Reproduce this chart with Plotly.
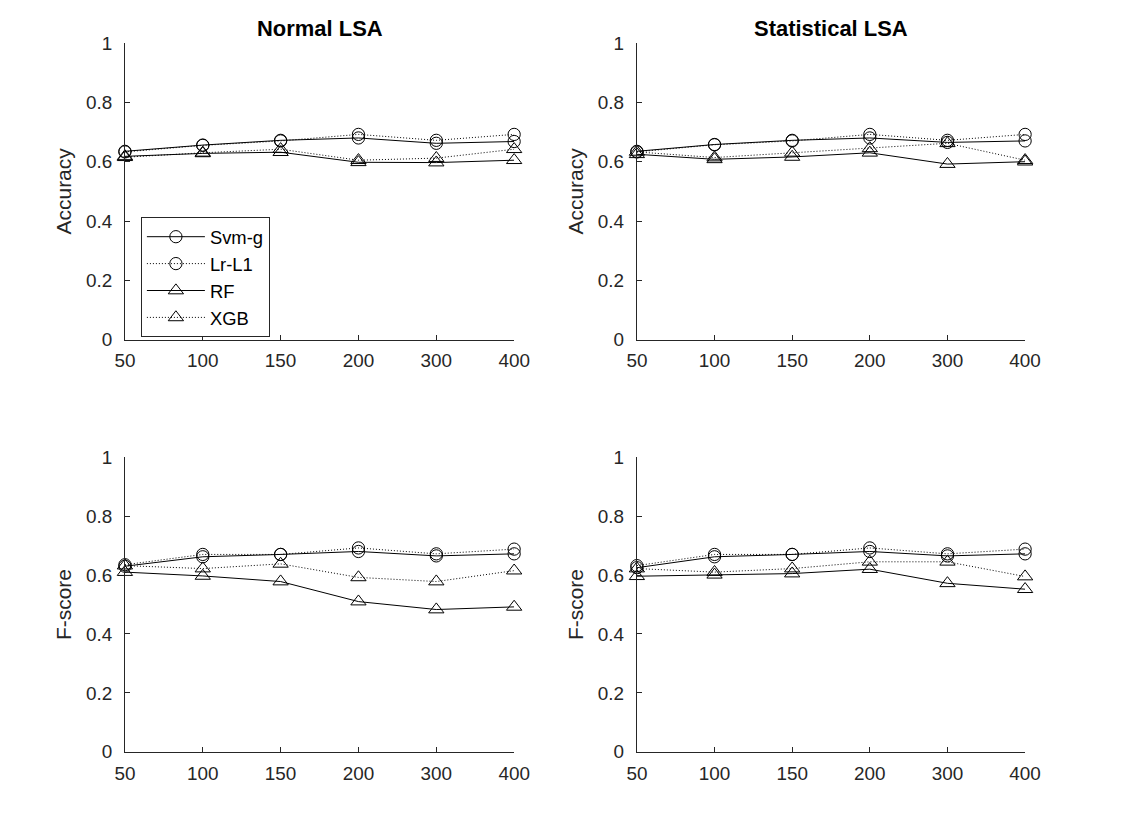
import plotly.graph_objects as go

x_labels = ["50", "100", "150", "200", "300", "400"]
series_names = ["Svm-g", "Lr-L1", "RF", "XGB"]

# Normal LSA - Accuracy
acc_normal_svm = [0.635, 0.656, 0.672, 0.680, 0.662, 0.668]
acc_normal_lr = [0.633, 0.655, 0.670, 0.692, 0.672, 0.692]
acc_normal_rf = [0.618, 0.628, 0.632, 0.598, 0.597, 0.605]
acc_normal_xgb = [0.615, 0.630, 0.642, 0.605, 0.612, 0.642]

# Statistical LSA - Accuracy
acc_stat_svm = [0.635, 0.658, 0.672, 0.680, 0.665, 0.670]
acc_stat_lr = [0.633, 0.657, 0.670, 0.692, 0.672, 0.692]
acc_stat_rf = [0.625, 0.608, 0.616, 0.630, 0.592, 0.600]
acc_stat_xgb = [0.633, 0.614, 0.630, 0.645, 0.662, 0.605]

# Normal LSA - F-score
f_normal_svm = [0.630, 0.662, 0.670, 0.680, 0.665, 0.672]
f_normal_lr = [0.635, 0.670, 0.670, 0.692, 0.672, 0.688]
f_normal_rf = [0.610, 0.597, 0.578, 0.510, 0.483, 0.492]
f_normal_xgb = [0.632, 0.622, 0.638, 0.592, 0.578, 0.615]

# Statistical LSA - F-score
f_stat_svm = [0.625, 0.662, 0.670, 0.680, 0.665, 0.672]
f_stat_lr = [0.632, 0.670, 0.670, 0.692, 0.672, 0.688]
f_stat_rf = [0.596, 0.601, 0.605, 0.620, 0.572, 0.552]
f_stat_xgb = [0.622, 0.610, 0.622, 0.645, 0.645, 0.595]

y_ticks = [0, 0.2, 0.4, 0.6, 0.8, 1]
y_tick_text = ["0", "0.2", "0.4", "0.6", "0.8", "1"]

panels = [
    ("x", "y", [acc_normal_svm, acc_normal_lr, acc_normal_rf, acc_normal_xgb]),
    ("x2", "y2", [acc_stat_svm, acc_stat_lr, acc_stat_rf, acc_stat_xgb]),
    ("x3", "y3", [f_normal_svm, f_normal_lr, f_normal_rf, f_normal_xgb]),
    ("x4", "y4", [f_stat_svm, f_stat_lr, f_stat_rf, f_stat_xgb]),
]

DOT = "1px,2px"
styles = [
    ("solid", "circle-open"),
    (DOT, "circle-open"),
    ("solid", "triangle-up-open"),
    (DOT, "triangle-up-open"),
]

FONT = "Liberation Sans, Arial, sans-serif"
AX = "#262626"

# observed picture ~ S * (figure coordinate + OFF)
S = 0.979
OFF = 8
W, H = 1131, 829

def fx(v):
    return v / S - OFF

def px(v):
    return fx(v) / W

def py(v):
    return 1 - fx(v) / H

def fs(v):
    return v / S

fig = go.Figure()
for pi, (xa, ya, data) in enumerate(panels):
    for si, vals in enumerate(data):
        dash, sym = styles[si]
        fig.add_trace(go.Scatter(
            x=x_labels, y=vals, xaxis=xa, yaxis=ya,
            mode="lines+markers", name=series_names[si],
            showlegend=(pi == 0),
            line=dict(color="black", width=1, dash=dash),
            marker=dict(symbol=sym, size=fs(12) if "circle" in sym else fs(13),
                        color="black", line=dict(width=1, color="black")),
            cliponaxis=False,
        ))

xl = [px(123), px(513)]
xr = [px(636), px(1025)]
yt = [py(339), py(41)]
yb = [py(753), py(457)]

def xax(domain, anchor):
    return dict(domain=domain, anchor=anchor, type="category", range=[0, 5],
                showline=True, linecolor=AX, linewidth=1, mirror=False,
                ticks="inside", ticklen=5, tickcolor=AX, showgrid=False,
                zeroline=False, tickfont=dict(family=FONT, size=fs(18.5), color=AX),
                ticklabelstandoff=4,
                fixedrange=True)

def yax(domain, anchor, title):
    return dict(domain=domain, anchor=anchor, range=[0, 1],
                tickvals=y_ticks, ticktext=y_tick_text,
                showline=True, linecolor=AX, linewidth=1, mirror=False,
                ticks="inside", ticklen=5, tickcolor=AX, showgrid=False,
                zeroline=False, tickfont=dict(family=FONT, size=fs(18.5), color=AX),
                ticklabelstandoff=8,
                title=dict(text=title, font=dict(family=FONT, size=fs(20.5), color=AX), standoff=8),
                fixedrange=True)

fig.update_layout(
    width=W, height=H, autosize=False,
    margin=dict(l=0, r=0, t=0, b=0),
    paper_bgcolor="white", plot_bgcolor="white",
    xaxis=xax(xl, "y"), yaxis=yax(yt, "x", "Accuracy"),
    xaxis2=xax(xr, "y2"), yaxis2=yax(yt, "x2", "Accuracy"),
    xaxis3=xax(xl, "y3"), yaxis3=yax(yb, "x3", "F-score"),
    xaxis4=xax(xr, "y4"), yaxis4=yax(yb, "x4", "F-score"),
    legend=dict(x=px(139), y=py(216), xanchor="left", yanchor="top",
                bordercolor=AX, borderwidth=1, bgcolor="white",
                font=dict(family=FONT, size=fs(18), color="black"),
                itemwidth=58, tracegroupgap=0),
    showlegend=True,
    annotations=[
        dict(text="<b>Normal LSA</b>", x=(xl[0] + xl[1]) / 2, y=py(26),
             xref="paper", yref="paper", xanchor="center", yanchor="middle",
             showarrow=False, font=dict(family=FONT, size=fs(21.5), color="black")),
        dict(text="<b>Statistical LSA</b>", x=(xr[0] + xr[1]) / 2, y=py(26),
             xref="paper", yref="paper", xanchor="center", yanchor="middle",
             showarrow=False, font=dict(family=FONT, size=fs(21.5), color="black")),
    ],
)

fig.write_html("out.html", config={"responsive": False})
